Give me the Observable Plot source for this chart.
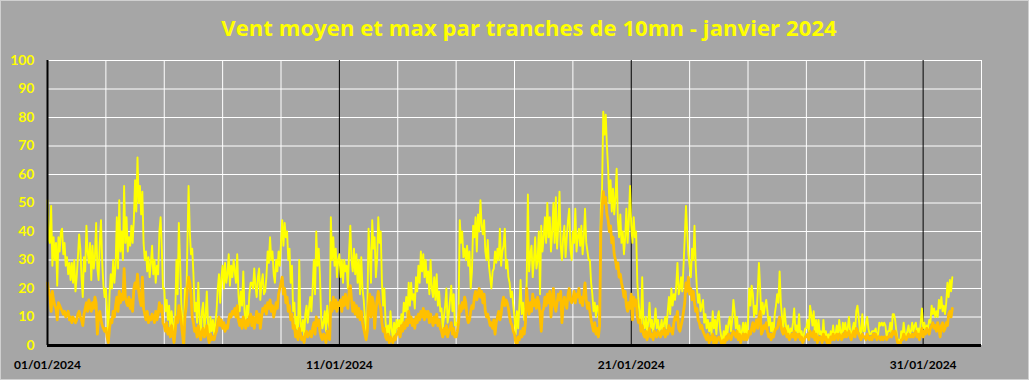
<!DOCTYPE html>
<html>
<head>
<meta charset="utf-8">
<script src="https://cdn.jsdelivr.net/npm/d3@7"></script>
<script src="https://cdn.jsdelivr.net/npm/@observablehq/plot@0.6"></script>
<style>
  html, body { margin: 0; padding: 0; background: #a6a6a6; }
  #wrap { position: relative; width: 1029px; height: 380px; background: #a6a6a6; overflow: hidden; }
  #title { height: 34px; padding-top: 16px; padding-left: 29px; box-sizing: content-box;
           font-family: "Open Sans", sans-serif; font-weight: bold; font-size: 22px; line-height: 22px;
           letter-spacing: 0.1px; color: #ffff00; text-align: center; white-space: nowrap; }
  #frame { position: absolute; left: 0; top: 0; width: 1027px; height: 378px; border: 1px solid #d0d0d0; pointer-events: none; }
  #chart svg { display: block; }
</style>
</head>
<body>
<div id="wrap">
  <div id="title"></div>
  <div id="chart"></div>
  <div id="frame"></div>
</div>
<script>
const titleText = "Vent moyen et max par tranches de 10mn - janvier 2024";
const startUTC = Date.UTC(2024, 0, 1);
const stepHours = 1;
const yTicks = [0, 10, 20, 30, 40, 50, 60, 70, 80, 90, 100];
const xTickDays = [1, 11, 21, 31];
const xTickLabels = ["01/01/2024", "11/01/2024", "21/01/2024", "31/01/2024"];
const whiteGridDays = [3, 5, 7, 9, 13, 15, 17, 19, 23, 25, 27, 29, 33];
const blackGridDays = [11, 21, 31];

// Vent max (km/h), one value per hour from 01/01 00h
const maxWind = [
  51,37,36,49,28,38,30,36,21,38,33,40,41,32,36,28,31,25,29,23,29,22,30,19,
  24,31,39,34,24,17,31,26,42,33,29,36,23,35,27,31,43,27,23,36,44,29,21,17,
  20,12,3,18,25,20,30,22,28,45,27,51,33,40,30,56,36,45,33,38,35,42,36,44,
  58,47,66,50,56,46,54,36,30,33,26,31,24,29,35,25,30,22,28,25,40,45,34,20,
  20,12,16,9,14,6,12,8,2,10,30,18,43,30,15,8,1,20,12,35,56,40,32,34,
  25,12,15,8,22,10,3,12,15,6,10,19,8,2,10,5,9,4,8,12,20,25,15,24,
  28,20,29,22,25,32,21,28,24,30,26,22,32,18,12,19,14,26,12,8,14,10,18,22,
  22,20,27,21,17,24,27,16,22,25,18,19,24,33,29,38,30,33,25,22,30,26,33,28,
  36,44,35,43,38,40,30,34,22,28,12,15,6,10,4,30,8,5,9,3,11,14,8,13,
  17,12,20,30,18,40,28,34,25,10,6,8,12,5,14,8,6,45,30,38,28,34,24,30,
  32,24,30,22,30,26,28,20,33,42,30,26,34,25,32,22,30,18,31,20,16,10,5,12,
  41,32,22,44,34,38,24,30,45,36,40,22,14,20,8,4,7,3,12,6,2,8,4,9,
  6,9,4,11,8,15,12,17,10,22,14,22,16,18,13,24,19,28,22,33,26,32,24,30,
  22,26,18,30,20,17,24,16,25,14,19,12,13,6,10,14,20,8,11,16,21,12,18,7,
  8,7,12,44,36,40,31,34,30,35,28,33,20,26,42,38,45,33,46,40,51,42,39,44,
  33,30,37,28,24,20,26,27,33,29,34,30,41,28,33,35,41,27,30,24,22,17,19,14,
  10,4,12,6,14,23,11,15,9,13,22,53,26,32,35,24,30,38,27,30,40,18,42,33,
  38,45,36,50,38,45,33,40,50,36,52,34,42,54,35,30,38,42,31,38,44,48,34,30,
  40,36,48,33,38,41,35,42,32,38,48,36,33,30,30,22,18,12,15,10,14,13,8,48,
  55,82,74,81,70,62,50,58,47,55,46,52,62,44,38,46,36,40,32,38,48,36,44,56,
  42,36,45,38,40,22,15,11,6,24,8,6,10,5,8,15,6,9,5,8,13,6,9,5,
  6,9,4,8,10,6,12,17,11,20,14,18,16,21,29,18,20,24,19,28,38,49,40,32,
  28,24,34,30,42,28,20,15,18,12,14,16,8,11,6,9,5,8,4,12,6,9,4,10,
  12,6,3,1,5,2,7,4,8,10,5,9,16,12,6,10,4,7,2,5,8,4,8,3,
  8,20,14,21,18,10,14,11,19,29,20,10,15,11,14,16,12,7,10,5,8,4,11,14,
  18,15,26,15,10,6,13,8,4,7,3,6,5,8,13,5,7,4,11,3,5,2,4,6,
  6,9,5,14,11,7,12,4,9,3,9,4,5,2,9,3,5,2,4,1,5,3,7,3,
  4,7,3,9,5,3,8,5,8,4,6,10,5,3,6,8,4,12,14,10,5,4,11,5,
  5,8,10,6,4,4,5,5,5,6,3,4,8,7,8,7,8,7,3,5,5,8,4,11,
  11,9,5,2,2,0,5,3,8,4,3,5,7,4,5,8,5,7,8,4,6,3,8,13,
  6,8,5,7,6,9,8,14,11,13,10,12,10,16,13,17,12,14,11,15,22,17,23,19,
  24
];

// Vent moyen (km/h), one value per hour from 01/01 00h
const meanWind = [
  22,19,17,12,19,16,14,13,9,15,14,13,12,11,12,10,11,12,9,10,8,10,9,8,
  9,11,12,10,9,7,11,13,15,12,16,14,12,15,13,17,15,4,10,12,9,7,6,5,
  6,3,1,6,9,8,12,10,14,17,12,19,15,18,16,27,17,15,14,17,13,16,12,20,
  22,20,25,19,16,14,24,13,11,9,12,8,10,9,11,10,8,12,9,11,15,12,14,8,
  7,5,8,4,6,3,7,4,1,5,10,8,14,12,8,4,0,10,14,20,24,22,18,10,
  8,5,6,3,7,4,2,5,6,3,4,7,3,1,4,2,3,2,4,5,8,10,7,9,
  6,8,5,7,6,9,11,10,12,11,13,10,14,9,7,9,6,10,8,6,9,7,10,11,
  7,10,6,9,12,8,11,6,10,13,12,14,11,15,13,16,12,14,10,12,15,13,18,20,
  22,24,18,20,15,17,12,14,9,11,6,7,3,5,2,6,4,2,3,1,4,5,3,4,
  5,3,6,8,4,10,7,9,5,3,2,4,3,1,5,3,2,15,12,17,13,16,12,15,
  14,16,12,17,14,18,15,13,19,21,16,12,15,11,14,10,13,9,12,8,6,4,2,5,
  14,18,10,17,15,6,12,16,19,15,13,8,5,6,3,2,4,1,3,2,1,3,2,4,
  4,6,3,7,5,8,6,9,7,12,8,10,7,9,6,10,8,11,9,12,10,13,9,12,
  10,12,8,11,9,7,10,8,11,7,9,6,5,3,6,4,7,3,5,6,8,4,6,3,
  3,5,8,14,12,15,13,17,15,10,8,9,12,14,13,17,19,16,18,20,17,19,15,18,
  12,10,11,9,7,8,6,9,4,8,10,12,9,11,15,17,14,16,15,13,10,8,7,5,
  4,1,0,3,2,5,3,6,4,8,20,14,11,15,12,18,14,16,13,17,15,11,5,12,
  13,17,14,18,15,19,10,16,20,14,12,15,18,16,19,8,14,17,15,13,18,20,16,15,
  16,19,15,18,17,20,15,17,14,18,22,16,13,15,12,9,7,5,8,4,6,3,7,40,
  48,54,50,52,46,44,40,42,36,38,32,30,27,29,24,25,22,20,17,19,14,12,15,13,
  18,9,17,14,16,10,8,9,5,7,4,3,5,2,4,6,3,4,2,5,4,3,5,4,
  3,5,4,6,3,5,4,7,5,6,4,8,10,9,12,6,5,7,9,12,15,22,19,24,
  18,20,16,19,15,12,13,9,8,6,7,5,4,3,2,4,1,3,2,4,0,3,1,2,
  3,2,1,0,2,1,3,2,4,3,2,4,5,4,3,5,2,4,1,3,4,2,4,2,
  3,5,4,6,8,5,7,9,6,10,12,4,5,7,6,8,5,3,4,2,4,3,5,6,
  6,8,10,7,5,4,6,5,3,4,2,3,4,3,5,2,4,3,4,2,3,1,2,3,
  3,4,2,5,4,3,5,2,4,1,3,2,3,1,4,2,3,1,2,0,3,2,4,2,
  3,4,2,4,3,2,4,3,5,3,4,5,3,2,4,5,3,6,5,4,3,2,4,3,
  3,2,4,3,2,3,2,4,3,4,2,3,3,2,3,2,3,3,2,3,3,4,3,5,
  4,5,3,1,1,0,2,2,4,3,2,3,4,3,3,4,3,4,5,3,4,2,4,6,
  3,5,4,6,5,4,6,7,8,6,7,5,8,6,3,7,8,5,6,8,7,11,12,10,
  13
];

const dayDate = d => new Date(Date.UTC(2024, 0, d));
const rows = maxWind.map((v, i) => ({
  t: new Date(startUTC + i * stepHours * 3600e3),
  max: v,
  mean: meanWind[i]
}));

document.getElementById("title").textContent = titleText;

const chart = Plot.plot({
  width: 1029,
  height: 330,
  marginLeft: 47,
  marginRight: 48,
  marginTop: 10,
  marginBottom: 35,
  x: { type: "utc", domain: [dayDate(1), dayDate(33)], label: null },
  y: { domain: [0, 100], label: null },
  style: { background: "transparent", fontFamily: "Lato, sans-serif", overflow: "visible" },
  marks: [
    Plot.ruleY(yTicks.filter(v => v > 0), { stroke: "#ffffff", strokeWidth: 1 }),
    Plot.ruleX(whiteGridDays.map(dayDate), { stroke: "#ffffff", strokeWidth: 1 }),
    Plot.ruleX(blackGridDays.map(dayDate), { stroke: "#000000", strokeWidth: 1 }),
    Plot.lineY(rows, { x: "t", y: "max", stroke: "#ffff00", strokeWidth: 1.9 }),
    Plot.lineY(rows, { x: "t", y: "mean", stroke: "#ffc000", strokeWidth: 2.8 }),
    Plot.ruleX([dayDate(1)], { stroke: "#000000", strokeWidth: 2 }),
    Plot.ruleY([0], { stroke: "#000000", strokeWidth: 3 }),
    Plot.axisY({ ticks: yTicks, tickSize: 0, tickPadding: 13, fontSize: 14, fontWeight: "bold", fill: "#ffff00", label: null }),
    Plot.axisX({ ticks: xTickDays.map(dayDate), tickFormat: (d, i) => xTickLabels[i], tickSize: 0, tickPadding: 15,
                 fontSize: 12, fontWeight: "bold", fill: "#000000", label: null })
  ]
});
document.getElementById("chart").appendChild(chart);
</script>
</body>
</html>
